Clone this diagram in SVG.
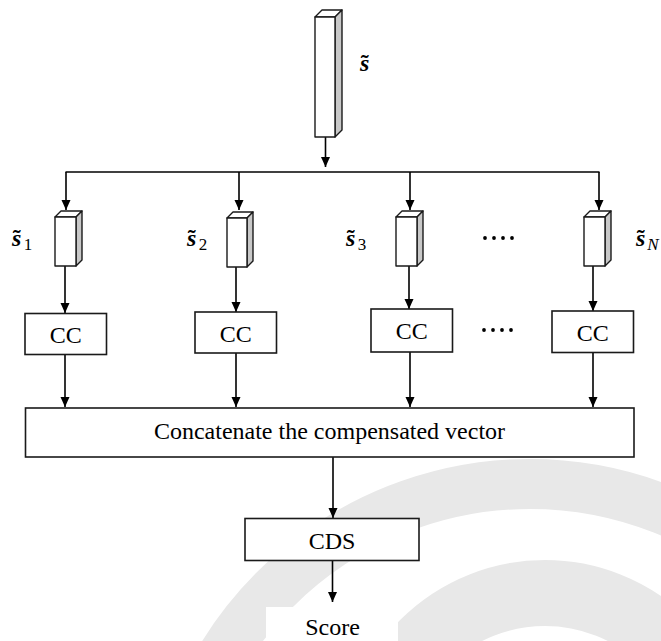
<svg xmlns="http://www.w3.org/2000/svg" width="661" height="641" viewBox="0 0 661 641">
  <style>
    .box { fill: #ffffff; stroke: #1a1a1a; stroke-width: 1.6; }
    .face { fill: #ffffff; stroke: #1a1a1a; stroke-width: 1.4; stroke-linejoin: round; }
    .side { fill: #c8c8c8; stroke: #1a1a1a; stroke-width: 1.4; stroke-linejoin: round; }
    .wire { fill: none; stroke: #000000; stroke-width: 1.6; }
    .arrow { fill: none; stroke: #000000; stroke-width: 1.6; marker-end: url(#head); }
    .lbl { font-family: "Liberation Serif", "Times New Roman", serif; font-size: 24px; fill: #000000; text-anchor: middle; }
    .sym { font-family: "Liberation Serif", "Times New Roman", serif; font-size: 24px; fill: #000000; }
    .s { font-weight: bold; font-style: italic; }
    .t { font-weight: bold; }
    .sub { font-size: 17px; }
    .subi { font-size: 17px; font-style: italic; }
    .dot { fill: #000000; }
    .mark { fill: none; stroke: #e8e8e8; }
  </style>
  <defs>
    <marker id="head" viewBox="0 0 10 10" refX="10" refY="5" markerWidth="10" markerHeight="10" markerUnits="userSpaceOnUse" orient="auto">
      <path d="M0,0.5 L10,5 L0,9.5 z" fill="#000000"/>
    </marker>
  </defs>

  <rect x="0" y="0" width="661" height="641" fill="#ffffff"/>

  <!-- faint background emblem -->
  <g id="watermark">
    <circle class="mark" cx="530" cy="845" r="361" stroke-width="50"/>
    <circle class="mark" cx="545" cy="765" r="172" stroke-width="66"/>
  </g>

  <!-- connectors -->
  <g id="connectors">
    <line class="arrow" x1="325.5" y1="137" x2="325.5" y2="167"/>
    <line class="wire" x1="65.5" y1="172" x2="599.5" y2="172"/>
    <line class="arrow" x1="66" y1="172" x2="66" y2="210"/>
    <line class="arrow" x1="239" y1="172" x2="239" y2="210"/>
    <line class="arrow" x1="410" y1="172" x2="410" y2="210"/>
    <line class="arrow" x1="599" y1="172" x2="599" y2="210"/>

    <line class="arrow" x1="65" y1="266" x2="65" y2="313"/>
    <line class="arrow" x1="236" y1="267" x2="236" y2="312"/>
    <line class="arrow" x1="409" y1="266" x2="409" y2="309"/>
    <line class="arrow" x1="593" y1="266" x2="593" y2="311"/>

    <line class="arrow" x1="65" y1="354" x2="65" y2="407"/>
    <line class="arrow" x1="236" y1="353" x2="236" y2="407"/>
    <line class="arrow" x1="410" y1="352" x2="410" y2="407"/>
    <line class="arrow" x1="593" y1="352" x2="593" y2="407"/>

    <line class="arrow" x1="333" y1="457" x2="333" y2="518"/>
    <line class="arrow" x1="332.5" y1="561" x2="332.5" y2="602"/>
  </g>

  <!-- input vector -->
  <g id="vec-s">
    <polygon class="face" points="315,17 322,10 342,10 335,17"/>
    <polygon class="side" points="335,17 342,10 342,130 335,137"/>
    <rect class="face" x="315" y="17" width="20" height="120"/>
    <text class="sym" x="360" y="71"><tspan class="s">s</tspan><tspan class="t" dx="-8.7">˜</tspan></text>
  </g>

  <!-- sub-vectors -->
  <g id="vec-s1">
    <polygon class="face" points="55,217 61,211 82,211 76,217"/>
    <polygon class="side" points="76,217 82,211 82,260 76,266"/>
    <rect class="face" x="55" y="217" width="21" height="49"/>
    <text class="sym" x="12" y="246"><tspan class="s">s</tspan><tspan class="t" dx="-8.7">˜</tspan><tspan class="sub" dx="3" dy="4">1</tspan></text>
  </g>
  <g id="vec-s2">
    <polygon class="face" points="227,218 233,212 253,212 247,218"/>
    <polygon class="side" points="247,218 253,212 253,261 247,267"/>
    <rect class="face" x="227" y="218" width="20" height="49"/>
    <text class="sym" x="187" y="246"><tspan class="s">s</tspan><tspan class="t" dx="-8.7">˜</tspan><tspan class="sub" dx="3" dy="4">2</tspan></text>
  </g>
  <g id="vec-s3">
    <polygon class="face" points="396,217 402,211 423,211 417,217"/>
    <polygon class="side" points="417,217 423,211 423,260 417,266"/>
    <rect class="face" x="396" y="217" width="21" height="49"/>
    <text class="sym" x="346" y="246"><tspan class="s">s</tspan><tspan class="t" dx="-8.7">˜</tspan><tspan class="sub" dx="3" dy="4">3</tspan></text>
  </g>
  <g id="dots-top">
    <circle class="dot" cx="485" cy="238" r="1.9"/>
    <circle class="dot" cx="494" cy="238" r="1.9"/>
    <circle class="dot" cx="503" cy="238" r="1.9"/>
    <circle class="dot" cx="512" cy="238" r="1.9"/>
  </g>
  <g id="vec-sN">
    <polygon class="face" points="584,217 590,211 611,211 605,217"/>
    <polygon class="side" points="605,217 611,211 611,260 605,266"/>
    <rect class="face" x="584" y="217" width="21" height="49"/>
    <text class="sym" x="636" y="246"><tspan class="s">s</tspan><tspan class="t" dx="-8.7">˜</tspan><tspan class="subi" dx="2.5" dy="4">N</tspan></text>
  </g>

  <!-- compensation blocks -->
  <g id="cc1">
    <rect class="box" x="25" y="313.5" width="81.5" height="41"/>
    <text class="lbl" x="65.75" y="342.5">CC</text>
  </g>
  <g id="cc2">
    <rect class="box" x="195" y="312" width="81.5" height="41"/>
    <text class="lbl" x="235.75" y="341.5">CC</text>
  </g>
  <g id="cc3">
    <rect class="box" x="371" y="309" width="81.5" height="43"/>
    <text class="lbl" x="411.75" y="338.5">CC</text>
  </g>
  <g id="dots-mid">
    <circle class="dot" cx="484" cy="330" r="1.9"/>
    <circle class="dot" cx="493" cy="330" r="1.9"/>
    <circle class="dot" cx="502" cy="330" r="1.9"/>
    <circle class="dot" cx="511" cy="330" r="1.9"/>
  </g>
  <g id="ccN">
    <rect class="box" x="552" y="311" width="81.5" height="41.5"/>
    <text class="lbl" x="592.75" y="340.5">CC</text>
  </g>

  <!-- concatenation -->
  <g id="concat">
    <rect class="box" x="25.5" y="408" width="608.5" height="49"/>
    <text class="lbl" x="329.5" y="439">Concatenate the compensated vector</text>
  </g>

  <!-- scoring -->
  <g id="cds">
    <rect class="box" x="245" y="518.5" width="174" height="42"/>
    <text class="lbl" x="332" y="548.5">CDS</text>
  </g>
  <g id="score">
    <rect x="266" y="607" width="132" height="34" fill="#ffffff"/>
    <text class="lbl" x="332.5" y="635">Score</text>
  </g>
</svg>
